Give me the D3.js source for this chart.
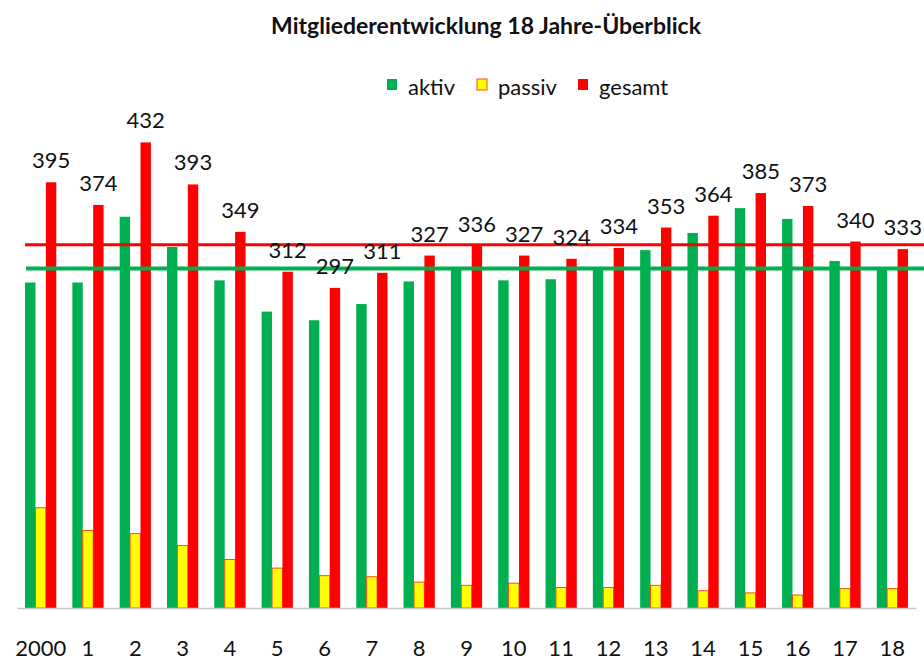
<!DOCTYPE html>
<html>
<head>
<meta charset="utf-8">
<script src="https://cdn.jsdelivr.net/npm/d3@7"></script>
<style>
  html, body { margin: 0; padding: 0; background: #fff; }
  svg { display: block; font-family: Lato, "Open Sans", sans-serif; }
</style>
</head>
<body>
<div id="chart"></div>
<script>
// Mitgliederentwicklung — grouped bars aktiv / passiv / gesamt
const years = ['2000', '1', '2', '3', '4', '5', '6', '7', '8', '9', '10', '11', '12', '13', '14', '15', '16', '17', '18'];
const aktiv  = [302, 302, 363, 335, 304, 275, 267, 282, 303, 315, 304, 305, 315, 332, 348, 371, 361, 322, 315];
const passiv = [93, 72, 69, 58, 45, 37, 30, 29, 24, 21, 23, 19, 19, 21, 16, 14, 12, 18, 18];
const gesamt = [395, 374, 432, 393, 349, 312, 297, 311, 327, 336, 327, 324, 334, 353, 364, 385, 373, 340, 333];
const seriesNames = ['aktiv', 'passiv', 'gesamt'];
const seriesColors = ['#00b050', '#ffff00', '#ff0000'];
// reference lines (level of year 9)
const refGesamt = 337;
const refAktiv = 315;
const title = 'Mitgliederentwicklung 18 Jahre-Überblick';

const W = 924, H = 665;
const svg = d3.select('#chart').append('svg').attr('width', W).attr('height', H);

const x = d3.scaleBand().domain(years).range([17, 916]).paddingInner(0.34).paddingOuter(0.17);
const xs = d3.scaleBand().domain(seriesNames).range([0, x.bandwidth()]);
const y = d3.scaleLinear().domain([0, 450]).range([608, 123]);

const rows = years.map((yr, i) => ({ yr, vals: [aktiv[i], passiv[i], gesamt[i]] }));

// bars
const grp = svg.append('g').selectAll('g').data(rows).enter().append('g')
  .attr('transform', d => `translate(${x(d.yr)},0)`);
grp.selectAll('rect').data(d => d.vals.map((v, j) => ({ v, s: seriesNames[j], c: seriesColors[j] })))
  .enter().append('rect')
  .attr('x', d => xs(d.s)).attr('width', xs.bandwidth())
  .attr('y', d => y(d.v)).attr('height', d => y(0) - y(d.v))
  .attr('fill', d => d.c)
  .attr('stroke', d => d.s === 'passiv' ? '#ff4a1a' : 'none').attr('stroke-width', 1);

// baseline + category labels
const ax = svg.append('g').attr('transform', `translate(0,${y(0)})`)
  .call(d3.axisBottom(x).tickSize(0).tickSizeOuter(0));
ax.select('.domain').attr('stroke', '#c8c8c8').attr('stroke-width', 1.5);
ax.selectAll('text').attr('dy', null).attr('y', 48)
  .style('font-size', '22px').style('font-family', 'Lato, "Open Sans", sans-serif').attr('fill', '#111');

// reference lines
const x0 = x(years[0]);
svg.append('line').attr('x1', x0).attr('x2', W).attr('y1', y(refGesamt)).attr('y2', y(refGesamt))
  .attr('stroke', '#ff0000').attr('stroke-width', 3);
svg.append('line').attr('x1', x0 + 1).attr('x2', W).attr('y1', y(refAktiv)).attr('y2', y(refAktiv))
  .attr('stroke', '#00b050').attr('stroke-width', 4);

// value labels on gesamt
svg.append('g').selectAll('text').data(rows).enter().append('text')
  .attr('x', d => x(d.yr) + xs('gesamt') + xs.bandwidth() / 2)
  .attr('y', d => y(d.vals[2]) - 14)
  .attr('text-anchor', 'middle').style('font-size', '22px').attr('fill', '#111')
  .text(d => d.vals[2]);

// title
svg.append('text').attr('x', 486).attr('y', 34).attr('text-anchor', 'middle')
  .style('font-size', '23px').style('font-weight', 'bold').attr('fill', '#111')
  .text(title);

// legend
const legX = [387, 477, 578];
const leg = svg.append('g').selectAll('g').data(seriesNames).enter().append('g')
  .attr('transform', (d, i) => `translate(${legX[i]},79)`);
leg.append('rect').attr('width', 10).attr('height', 11)
  .attr('fill', (d, i) => seriesColors[i])
  .attr('stroke', d => d === 'passiv' ? '#ff4a1a' : 'none');
leg.append('text').attr('x', 21).attr('y', 16).style('font-size', '22px').attr('fill', '#111')
  .text(d => d);
</script>
</body>
</html>
